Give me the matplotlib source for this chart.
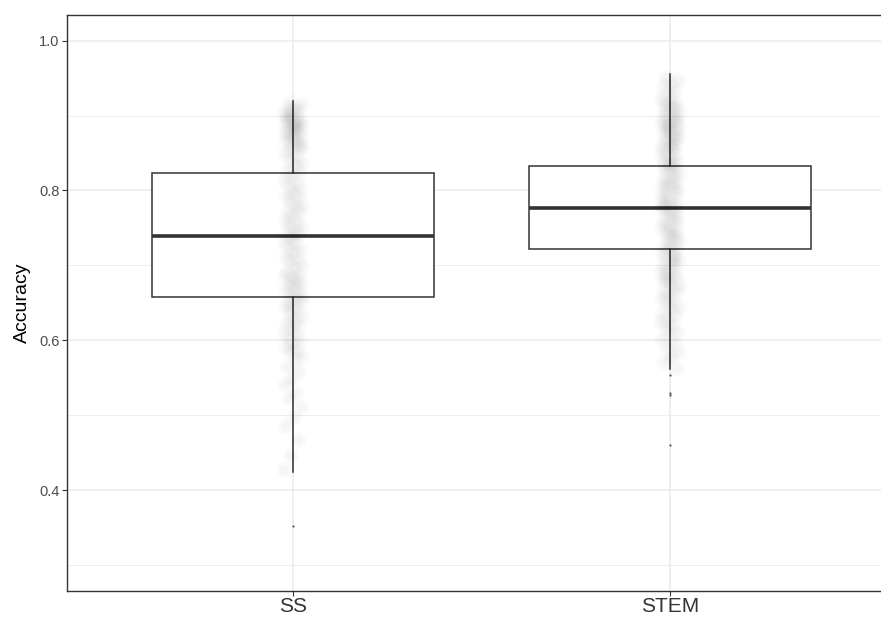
import numpy as np
import matplotlib
matplotlib.use("Agg")
import matplotlib.pyplot as plt

plt.rcParams['font.family'] = ['Liberation Sans', 'DejaVu Sans']

groups = ["SS", "STEM"]

# box statistics per group
q1 = [0.658, 0.722]
medians = [0.739, 0.7765]
q3 = [0.823, 0.8325]
whisker_lo = [0.424, 0.562]
whisker_hi = [0.920, 0.955]
outliers = [[0.352], [0.554, 0.530, 0.527, 0.460]]

# individual accuracies (jittered cloud)
ss_acc = [0.918, 0.915, 0.911, 0.909, 0.907, 0.905, 0.902, 0.900, 0.899, 0.896,
          0.894, 0.893, 0.890, 0.888, 0.887, 0.884, 0.882, 0.881, 0.878, 0.877,
          0.874, 0.872, 0.871, 0.868, 0.866, 0.863, 0.861, 0.860, 0.885, 0.895,
          0.857, 0.853, 0.850, 0.845, 0.842, 0.836, 0.833, 0.827, 0.825, 0.819,
          0.814, 0.811, 0.805, 0.802,
          0.798, 0.793, 0.791, 0.786, 0.781, 0.779, 0.773, 0.771, 0.766, 0.761,
          0.759, 0.754, 0.751, 0.746, 0.743, 0.740,
          0.737, 0.732, 0.730, 0.725, 0.720, 0.718, 0.713, 0.708, 0.706, 0.700,
          0.697, 0.692, 0.689, 0.685, 0.684, 0.680,
          0.677, 0.675, 0.671, 0.667, 0.666, 0.662, 0.658, 0.656, 0.652, 0.651,
          0.646, 0.644, 0.641, 0.636, 0.633, 0.627, 0.625, 0.620,
          0.616, 0.611, 0.609, 0.603, 0.601, 0.595, 0.593, 0.587, 0.585, 0.579,
          0.574, 0.565, 0.559, 0.549, 0.542, 0.531, 0.523,
          0.511, 0.498, 0.485, 0.467, 0.447, 0.428]

stem_acc = [0.952, 0.947, 0.942, 0.939, 0.933, 0.930, 0.924, 0.921,
            0.918, 0.915, 0.914, 0.910, 0.909, 0.905, 0.904, 0.901, 0.898, 0.897,
            0.893, 0.892, 0.890, 0.887, 0.884, 0.882, 0.880, 0.877, 0.876, 0.873,
            0.870, 0.869, 0.866, 0.864, 0.861, 0.860, 0.883, 0.891,
            0.858, 0.854, 0.852, 0.848, 0.847, 0.843, 0.840, 0.838, 0.834, 0.832,
            0.828, 0.826, 0.823, 0.819, 0.817, 0.813, 0.811, 0.808, 0.806, 0.803,
            0.800, 0.835,
            0.797, 0.795, 0.791, 0.789, 0.785, 0.783, 0.780, 0.776, 0.775, 0.771,
            0.769, 0.765, 0.763, 0.759, 0.757, 0.753, 0.751, 0.748, 0.745, 0.743,
            0.740, 0.779,
            0.738, 0.734, 0.732, 0.728, 0.726, 0.722, 0.720, 0.716, 0.714, 0.711,
            0.707, 0.705, 0.701, 0.699, 0.695, 0.693, 0.690, 0.687, 0.685, 0.682,
            0.681, 0.710,
            0.678, 0.673, 0.671, 0.666, 0.664, 0.659, 0.657, 0.652, 0.650, 0.645,
            0.642, 0.637, 0.634, 0.629, 0.626, 0.621,
            0.617, 0.611, 0.607, 0.600, 0.596, 0.589, 0.584, 0.577, 0.571, 0.563]

clouds = [ss_acc, stem_acc]

fig = plt.figure(figsize=(8.81, 6.17), dpi=100)
ax = fig.add_axes([0.076, 0.0426, 0.941, 0.9331])

stats = []
for i, g in enumerate(groups):
    stats.append(dict(label=g, med=medians[i], q1=q1[i], q3=q3[i],
                      whislo=whisker_lo[i], whishi=whisker_hi[i],
                      fliers=outliers[i]))

line_col = '#333333'
ax.bxp(stats, positions=[1, 2], widths=0.75, showcaps=False, patch_artist=True,
       boxprops=dict(facecolor='white', edgecolor=line_col, linewidth=1.1),
       medianprops=dict(color=line_col, linewidth=2.6),
       whiskerprops=dict(color=line_col, linewidth=1.1),
       flierprops=dict(marker='o', markersize=1.6, markerfacecolor=line_col,
                       markeredgecolor='none', alpha=0.8),
       zorder=2)

# jittered points on top of the boxes, each drawn as a soft blob
blob_layers = [(150, 0.010), (90, 0.012), (40, 0.014)]
for i, vals in enumerate(clouds):
    vals = np.asarray(vals)
    n = len(vals)
    offs = ((np.arange(n) * 0.618034 + 0.31) % 1.0 - 0.5) * 0.05
    for size, a in blob_layers:
        ax.scatter(np.full(n, i + 1) + offs, vals, s=size, color='black',
                   alpha=a, linewidths=0, zorder=3)

ax.set_xlim(0.4, 2.6)
ax.set_ylim(0.2657, 1.0343)
ax.set_xticks([1, 2])
ax.set_xticklabels(groups)
ax.set_yticks([0.4, 0.6, 0.8, 1.0])
ax.set_yticklabels(["0.4", "0.6", "0.8", "1.0"])
ax.set_yticks([0.3, 0.5, 0.7, 0.9], minor=True)
ax.set_axisbelow(True)
ax.grid(which='major', color='#ebebeb', linewidth=1.1)
ax.grid(which='minor', axis='y', color='#ebebeb', linewidth=0.55)

ax.tick_params(axis='y', which='major', labelsize=10.5, colors='#333333',
               length=3.5, width=0.8, pad=2)
ax.tick_params(axis='x', which='major', labelsize=15, labelcolor='#333333',
               color='#333333', length=3.5, width=0.8, pad=1)
ax.tick_params(which='minor', length=0)
for lab in ax.get_yticklabels():
    lab.set_color('#4d4d4d')

for sp in ax.spines.values():
    sp.set_color(line_col)
    sp.set_linewidth(1.0)

ax.set_ylabel("Accuracy", fontsize=14, color='black', labelpad=6)

fig.savefig("out.png", dpi=100)
